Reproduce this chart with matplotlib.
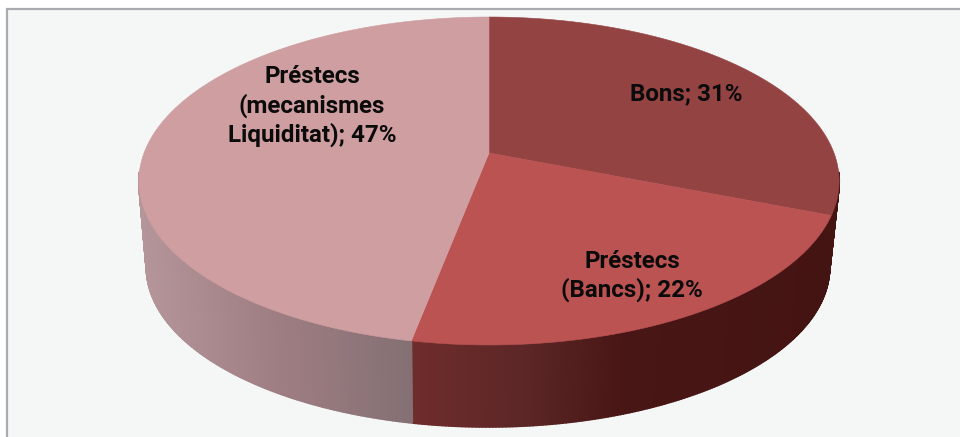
import numpy as np
import matplotlib
matplotlib.use("Agg")
import matplotlib.pyplot as plt
from matplotlib.collections import PolyCollection
from matplotlib.colors import LinearSegmentedColormap, Normalize
from matplotlib.patches import Polygon, Rectangle

# Slice shares, in drawing order clockwise from twelve o'clock
categories = ["Bons", "Préstecs\n(Bancs)", "Préstecs\n(mecanismes\nLiquiditat)"]
shares = [31, 22, 47]
top_colors = ["#944343", "#ba5352", "#cf9ea1"]
label_centers = [(686, 94), (632, 276), (312, 106)]

# Wall shading: (x in canvas units, colour) stops for each slice's rim
wall_stops = [
    [(0, "#441412"), (960, "#441412")],
    [(411, "#6f2c2c"), (520, "#5d2727"), (625, "#481615"), (835, "#441412")],
    [(139, "#b49599"), (280, "#9e7d82"), (411, "#847073")],
]

# Perspective projection of the pie's unit disc onto the canvas
TILT = 0.1707
TOP = dict(cx=489.0, cy=153.0, a=345.0, b=159.2)
BOTTOM = dict(cx=488.0, cy=240.0, a=336.5, b=155.0)


def project(theta, plane, radius=1.0):
    u = radius * np.sin(theta)
    v = -radius * np.cos(theta)
    w = 1 - TILT * v
    return plane["cx"] + plane["a"] * u / w, plane["cy"] + plane["b"] * v / w


fig = plt.figure(figsize=(9.6, 4.37), dpi=100, facecolor="white")
ax = fig.add_axes([0, 0, 1, 1])
ax.set_xlim(0, 960)
ax.set_ylim(437, 0)
ax.axis("off")

# Chart panel with its thin grey frame, which runs off the right and bottom
ax.add_patch(Rectangle((6.5, 8.5), 1000, 500, facecolor="#f5f7f7",
                       edgecolor="#a9abb0", linewidth=1.6, zorder=0))

edges = np.concatenate([[0], np.cumsum(shares)]) / np.sum(shares) * 2 * np.pi

# Walls first, so the top faces cover the inner edge of the rim
for start, stop, stops in zip(edges[:-1], edges[1:], wall_stops):
    thetas = np.linspace(start, stop, int((stop - start) * 120) + 2)
    xt, yt = project(thetas, TOP)
    xb, yb = project(thetas, BOTTOM)
    mid = (thetas[:-1] + thetas[1:]) / 2
    # Only the near side of the rim is visible
    near = np.flatnonzero(np.cos(mid) < -0.12)
    quads = [[(xt[i], yt[i]), (xt[i + 1], yt[i + 1]), (xb[i + 1], yb[i + 1]), (xb[i], yb[i])]
             for i in near]
    lo, hi = stops[0][0], stops[-1][0]
    cmap = LinearSegmentedColormap.from_list(
        "wall", [((x - lo) / (hi - lo), c) for x, c in stops])
    mids = (xt[:-1] + xt[1:])[near] / 2
    colors = cmap(Normalize(lo, hi)(mids))
    # Wide edges overlap neighbouring quads and hide the seams between them
    ax.add_collection(PolyCollection(quads, facecolors=colors, edgecolors=colors,
                                     linewidths=1.3, zorder=2))

# Top faces
for start, stop, color in zip(edges[:-1], edges[1:], top_colors):
    thetas = np.linspace(start, stop, 240)
    xs, ys = project(thetas, TOP)
    pts = np.column_stack([np.r_[TOP["cx"], xs], np.r_[TOP["cy"], ys]])
    ax.add_patch(Polygon(pts, closed=True, facecolor=color, edgecolor=color,
                         linewidth=0.4, zorder=3))

# Data labels
for name, share, (x, y) in zip(categories, shares, label_centers):
    ax.text(x, y, f"{name}; {share}%", ha="center", va="center", ma="center",
            family="Roboto", fontweight="bold", fontsize=17.4,
            linespacing=1.25, color="#0b0b0b", zorder=4)

fig.savefig("out.png", dpi=100, facecolor="white")
